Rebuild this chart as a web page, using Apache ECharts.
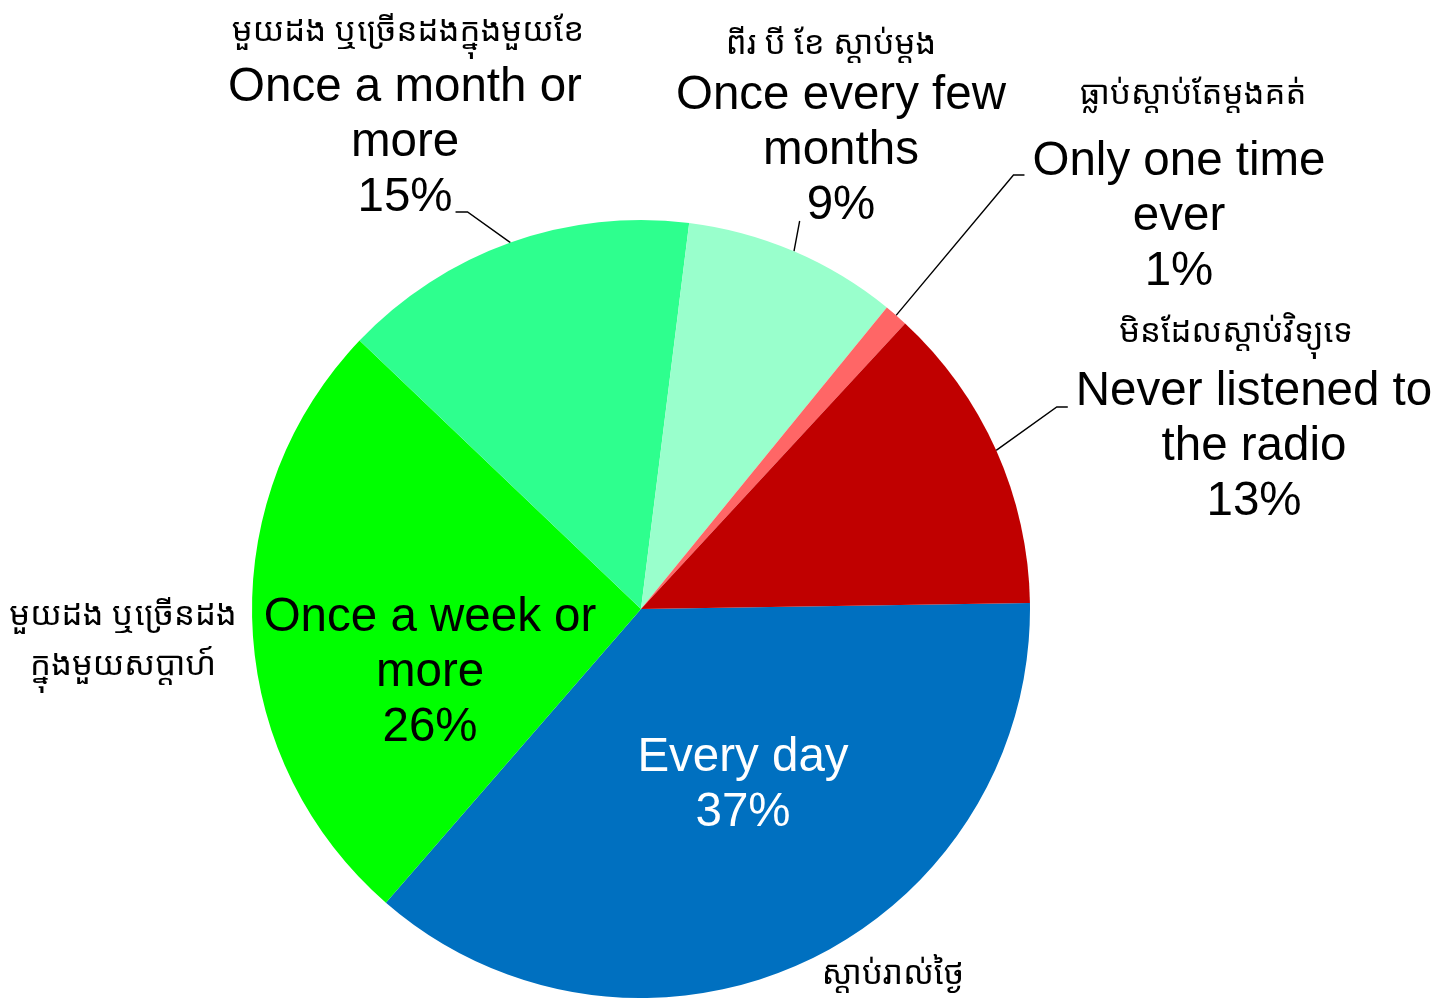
<!DOCTYPE html>
<html>
<head>
<meta charset="utf-8">
<title>Radio listening frequency</title>
<script src="https://cdn.jsdelivr.net/npm/echarts@6/dist/echarts.min.js"></script>
<style>
  html, body { margin: 0; padding: 0; background: #ffffff; }
  #chart { width: 1438px; height: 998px; }
</style>
</head>
<body>
<div id="chart"></div>
<script>
// Listening frequency categories (English, with line breaks) and their Khmer captions
const categories = [
  'Every day',
  'Once a week or\nmore',
  'Once a month or\nmore',
  'Once every few\nmonths',
  'Only one time\never',
  'Never listened to\nthe radio'
];
const khmerLabels = [
  'ស្ដាប់រាល់ថ្ងៃ',
  'មួយដង ឬច្រើនដង\nក្នុងមួយសប្ដាហ៍',
  'មួយដង ឬច្រើនដងក្នុងមួយខែ',
  'ពីរ បី ខែ ស្ដាប់ម្ដង',
  'ធ្លាប់ស្ដាប់តែម្ដងគត់',
  'មិនដែលស្ដាប់វិទ្យុទេ'
];
// Share of respondents, percent
const values = [37, 26, 15, 9, 1, 13];

// Slice colours
const colors = ['#0070C0', '#00FF00', '#2EFF8E', '#99FFCC', '#FF6666', '#C00000'];
const labelInside = [true, true, false, false, false, false];
const labelColors = ['#ffffff', '#000000', '#000000', '#000000', '#000000', '#000000'];

// Geometry and typography
const CX = 641, CY = 609, R = 389, START_ANGLE = 0.9;
const EN_FONT = '"Liberation Sans", Arial, Helvetica, sans-serif';
const KM_FONT = '"Noto Sans Khmer", "Khmer OS", "Khmer OS System", "Noto Sans", sans-serif';
const EN_SIZE = 47.5, EN_LINE = 55;
const KM_SIZE = 33, KM_LINE = 50;

// Label anchors: centre x and centre y of the first English line / of the Khmer block
const enPos = [[743, 758], [430, 618], [405, 88], [841, 96], [1179, 162], [1254, 392]];
const kmPos = [[893, 975], [123, 641], [408, 32], [831, 45], [1193, 95], [1236, 333]];

// Leader lines: which line of the label they attach to, on which side, and the short elbow
const leaders = {
  2: { line: 2, side: 'right', gap: 3, dy: 14, elbow: 12 },
  3: { line: 2, side: 'left',  gap: 7, dy: 15, elbow: 0 },
  4: { line: 0, side: 'left',  gap: 8, dy: 13, elbow: 11 },
  5: { line: 0, side: 'left',  gap: 8, dy: 15, elbow: 11 }
};

const measureCtx = document.createElement('canvas').getContext('2d');
measureCtx.font = EN_SIZE + 'px ' + EN_FONT;

function labelLines(i) {
  return (categories[i] + '\n' + values[i] + '%').split('\n');
}

// Mid-angle point of each slice on the outer edge
const total = values.reduce((a, b) => a + b, 0);
const edgePoints = (function () {
  let acc = 0;
  return values.map(v => {
    const a = (START_ANGLE - (acc + v / 2) / total * 360) * Math.PI / 180;
    acc += v;
    return [CX + R * Math.cos(a), CY - R * Math.sin(a)];
  });
})();

const mainData = values.map((v, i) => ({
  value: v,
  name: categories[i],
  itemStyle: { color: colors[i] },
  label: {
    position: labelInside[i] ? 'inside' : 'outside',
    color: labelColors[i]
  },
  labelLine: { show: !labelInside[i] }
}));

const overlayData = values.map((v, i) => ({
  value: v,
  name: khmerLabels[i]
}));

const chart = echarts.init(document.getElementById('chart'), null, { renderer: 'canvas' });

chart.setOption({
  backgroundColor: '#ffffff',
  animation: false,
  series: [
    {
      type: 'pie',
      center: [CX, CY],
      radius: R,
      startAngle: START_ANGLE,
      clockwise: true,
      avoidLabelOverlap: false,
      silent: true,
      data: mainData,
      itemStyle: { borderWidth: 0 },
      label: {
        show: true,
        formatter: p => p.name + '\n' + p.value + '%',
        fontFamily: EN_FONT,
        fontSize: EN_SIZE,
        lineHeight: EN_LINE,
        align: 'center'
      },
      labelLine: {
        show: true,
        lineStyle: { color: '#000000', width: 1.4 }
      },
      labelLayout: function (params) {
        const i = params.dataIndex;
        const [x, yFirst] = enPos[i];
        const out = {
          x: x,
          y: yFirst - EN_LINE / 2,
          align: 'center',
          verticalAlign: 'top'
        };
        const ld = leaders[i];
        if (ld) {
          const lines = labelLines(i);
          const w = measureCtx.measureText(lines[ld.line]).width;
          const ly = yFirst + ld.line * EN_LINE + ld.dy;
          const ex = ld.side === 'right' ? x + w / 2 + ld.gap : x - w / 2 - ld.gap;
          const bx = ld.side === 'right' ? ex + ld.elbow : ex - ld.elbow;
          out.labelLinePoints = [edgePoints[i], [bx, ly], [ex, ly]];
        }
        return out;
      }
    },
    {
      // Khmer captions laid over the same slices
      type: 'pie',
      center: [CX, CY],
      radius: R,
      startAngle: START_ANGLE,
      clockwise: true,
      avoidLabelOverlap: false,
      silent: true,
      z: 3,
      data: overlayData,
      itemStyle: { color: 'rgba(0,0,0,0)', borderWidth: 0 },
      label: {
        show: true,
        position: 'outside',
        formatter: p => p.name,
        fontFamily: KM_FONT,
        fontSize: KM_SIZE,
        lineHeight: KM_LINE,
        color: '#000000',
        align: 'center'
      },
      labelLine: { show: false },
      labelLayout: function (params) {
        const [x, y] = kmPos[params.dataIndex];
        return { x: x, y: y, align: 'center', verticalAlign: 'middle' };
      }
    }
  ]
});
</script>
</body>
</html>
